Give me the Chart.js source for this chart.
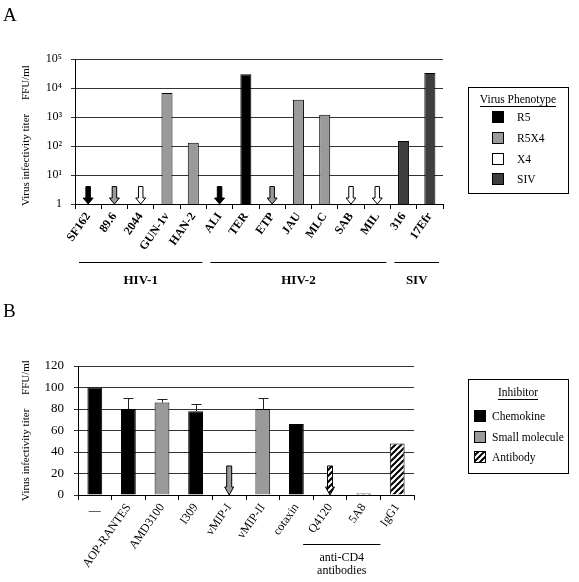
<!DOCTYPE html>
<html>
<head>
<meta charset="utf-8">
<script src="https://cdn.jsdelivr.net/npm/chart.js@4/dist/chart.umd.min.js"></script>
<style>
body { margin: 0; background: #fff; }
#wrap { position: relative; width: 579px; height: 582px; overflow: hidden; }
canvas { position: absolute; left: 0; }
#chartA { top: 0; }
#chartB { top: 300px; }
</style>
</head>
<body>
<div id="wrap">
  <canvas id="chartA" width="579" height="300"></canvas>
  <canvas id="chartB" width="579" height="282"></canvas>
</div>
<script>
// panel A: virus titers (log scale)
var virusNames = ['SF162', '89.6', '2044', 'GUN-1v', 'HAN-2', 'ALI', 'TER', 'ETP', 'JAU', 'MLC', 'SAB', 'MIL', '316', '17Efr'];
var virusPhenotype = ['R5', 'R5X4', 'X4', 'R5X4', 'R5X4', 'R5', 'R5', 'R5X4', 'R5X4', 'R5X4', 'X4', 'X4', 'SIV', 'SIV'];
var virusTiter = [null, null, null, 6700, 130, null, 30000, null, 3900, 1200, null, null, 150, 33000];
var virusBelowDetection = [4, 4, 4, null, null, 4, null, 4, null, null, 4, 4, null, null];
var virusGroups = ['HIV-1', 'HIV-2', 'SIV'];
var virusGroupFirst = [0, 5, 12];
var virusGroupLast = [4, 11, 13];
var titerTicks = [1, 10, 100, 1000, 10000, 100000];
var titerTickLabels = ['1', '10\u00b9', '10\u00b2', '10\u00b3', '10\u2074', '10\u2075'];
var phenotypes = ['R5', 'R5X4', 'X4', 'SIV'];

// panel B: inhibitors (% of control)
var inhibitorNames = ['\u2014', 'AOP-RANTES', 'AMD3100', 'I309', 'vMIP-I', 'vMIP-II', 'cotaxin', 'Q4120', '5A8', 'IgG1'];
var inhibitorClass = ['Chemokine', 'Chemokine', 'Small molecule', 'Chemokine', 'Small molecule', 'Small molecule', 'Chemokine', 'Antibody', 'Antibody', 'Antibody'];
var inhibitorTiter = [100, 80, 86, 78, null, 80, 66, 0.6, 1.5, 48];
var inhibitorErrorTop = [null, 90, 89, 85, null, 90, null, null, null, null];
var inhibitorBelowDetection = [null, null, null, null, 27, null, null, 27, null, null];
var cd4First = 7;
var cd4Last = 8;
var cd4Label = ['anti-CD4', 'antibodies'];
var percentTicks = [0, 20, 40, 60, 80, 100, 120];
var inhibitorTypes = ['Chemokine', 'Small molecule', 'Antibody'];

var serif = '"Liberation Serif", "DejaVu Serif", serif';
var serifName = 'Liberation Serif';
var phenotypeColor = { 'R5': '#000000', 'R5X4': '#9a9a9a', 'X4': '#ffffff', 'SIV': '#3e3e3e' };

function hatchPattern() {
  var c = document.createElement('canvas');
  c.width = 6; c.height = 6;
  var g = c.getContext('2d');
  g.fillStyle = '#fff';
  g.fillRect(0, 0, 6, 6);
  g.strokeStyle = '#000';
  g.lineWidth = 2;
  g.beginPath();
  g.moveTo(-1, 7); g.lineTo(7, -1);
  g.moveTo(-1, 1); g.lineTo(1, -1);
  g.moveTo(5, 7); g.lineTo(7, 5);
  g.stroke();
  return g.createPattern(c, 'repeat');
}
var hatch = hatchPattern();
var classColor = { 'Chemokine': '#000000', 'Small molecule': '#9a9a9a', 'Antibody': hatch };

function drawArrow(ctx, x, yTop, yBot, w, headW, headH, fill) {
  ctx.beginPath();
  ctx.moveTo(x - w / 2, yTop);
  ctx.lineTo(x + w / 2, yTop);
  ctx.lineTo(x + w / 2, yBot - headH);
  ctx.lineTo(x + headW / 2, yBot - headH);
  ctx.lineTo(x, yBot);
  ctx.lineTo(x - headW / 2, yBot - headH);
  ctx.lineTo(x - w / 2, yBot - headH);
  ctx.closePath();
  ctx.fillStyle = fill;
  ctx.fill();
  ctx.lineWidth = 1;
  ctx.strokeStyle = '#000';
  ctx.stroke();
}

// legend box + panel letter, drawn on the canvas
function drawLegend(ctx, o) {
  ctx.save();
  ctx.strokeStyle = '#000';
  ctx.lineWidth = 1;
  ctx.strokeRect(o.left + 0.5, o.top + 0.5, o.width, o.height);
  ctx.fillStyle = '#000';
  ctx.font = '11.5px ' + serif;
  ctx.textBaseline = 'middle';
  ctx.textAlign = 'center';
  var cx = o.left + o.width / 2;
  ctx.fillText(o.title, cx, o.titleY);
  var tw = ctx.measureText(o.title).width;
  ctx.fillRect(Math.round(cx - tw / 2), o.titleY + 6, Math.round(tw), 1);
  ctx.textAlign = 'left';
  o.names.forEach(function(n, i) {
    var y = o.firstY + i * o.step;
    ctx.fillStyle = o.colors[i];
    ctx.fillRect(o.swX, Math.round(y - 6), 12, 12);
    ctx.strokeRect(o.swX + 0.5, Math.round(y - 6) + 0.5, 11, 11);
    ctx.fillStyle = '#000';
    ctx.fillText(n, o.textX, y + 1);
  });
  ctx.font = '19px ' + serif;
  ctx.textBaseline = 'alphabetic';
  ctx.fillText(o.panel, 3, o.panelY);
  ctx.restore();
}

var arrowsA = {
  id: 'arrowsA',
  afterDatasetsDraw: function(chart) {
    var ctx = chart.ctx, xs = chart.scales.x, ys = chart.scales.y;
    ctx.save();
    virusBelowDetection.forEach(function(v, i) {
      if (v == null) return;
      drawArrow(ctx, xs.getPixelForValue(i), ys.getPixelForValue(v), ys.getPixelForValue(1), 4.5, 10, 6, phenotypeColor[virusPhenotype[i]]);
    });
    ctx.restore();
  }
};

var extrasA = {
  id: 'extrasA',
  afterDraw: function(chart) {
    var ctx = chart.ctx, xs = chart.scales.x;
    var half = (xs.getPixelForValue(1) - xs.getPixelForValue(0)) / 2;
    ctx.save();
    ctx.strokeStyle = '#000';
    ctx.lineWidth = 1;
    ctx.fillStyle = '#000';
    ctx.font = 'bold 13px ' + serif;
    ctx.textAlign = 'center';
    ctx.textBaseline = 'middle';
    virusGroups.forEach(function(name, g) {
      var x1 = xs.getPixelForValue(virusGroupFirst[g]) - half + 4;
      var x2 = xs.getPixelForValue(virusGroupLast[g]) + half - 4;
      ctx.beginPath();
      ctx.moveTo(x1, 262.5);
      ctx.lineTo(x2, 262.5);
      ctx.stroke();
      ctx.fillText(name, (x1 + x2) / 2, 281);
    });
    ctx.restore();
    drawLegend(ctx, {
      left: 468, top: 87, width: 100, height: 106, title: 'Virus Phenotype', titleY: 100,
      names: phenotypes, colors: phenotypes.map(function(p) { return phenotypeColor[p]; }),
      firstY: 117, step: 20.8, swX: 492, textX: 517, panel: 'A', panelY: 21
    });
  }
};

var extrasB = {
  id: 'extrasB',
  afterDatasetsDraw: function(chart) {
    var ctx = chart.ctx, xs = chart.scales.x, ys = chart.scales.y;
    ctx.save();
    // error bars (upper only)
    ctx.strokeStyle = '#222';
    ctx.lineWidth = 1;
    inhibitorErrorTop.forEach(function(e, i) {
      if (e == null) return;
      var x = Math.round(xs.getPixelForValue(i)) + 0.5;
      var y1 = ys.getPixelForValue(inhibitorTiter[i]);
      var y2 = Math.round(ys.getPixelForValue(e)) + 0.5;
      ctx.beginPath();
      ctx.moveTo(x, y1);
      ctx.lineTo(x, y2);
      ctx.moveTo(x - 5, y2);
      ctx.lineTo(x + 5, y2);
      ctx.stroke();
    });
    inhibitorBelowDetection.forEach(function(v, i) {
      if (v == null) return;
      drawArrow(ctx, xs.getPixelForValue(i), ys.getPixelForValue(v), ys.getPixelForValue(0), 5, 9, 8, classColor[inhibitorClass[i]]);
    });
    ctx.restore();
  },
  afterDraw: function(chart) {
    var ctx = chart.ctx, xs = chart.scales.x;
    var half = (xs.getPixelForValue(1) - xs.getPixelForValue(0)) / 2;
    ctx.save();
    ctx.fillStyle = '#000';
    ctx.strokeStyle = '#000';
    ctx.lineWidth = 1;
    ctx.font = '12px ' + serif;
    ctx.textAlign = 'center';
    ctx.textBaseline = 'middle';
    // the control label is written flat
    ctx.fillText(inhibitorNames[0], xs.getPixelForValue(0), 211);
    var x1 = xs.getPixelForValue(cd4First) - half * 1.6;
    var x2 = xs.getPixelForValue(cd4Last) + half;
    ctx.beginPath();
    ctx.moveTo(x1, 244.5);
    ctx.lineTo(x2, 244.5);
    ctx.stroke();
    ctx.fillText(cd4Label[0], (x1 + x2) / 2, 258);
    ctx.fillText(cd4Label[1], (x1 + x2) / 2, 271);
    ctx.restore();
    drawLegend(ctx, {
      left: 468, top: 79, width: 100, height: 94, title: 'Inhibitor', titleY: 93,
      names: inhibitorTypes, colors: inhibitorTypes.map(function(c) { return classColor[c]; }),
      firstY: 116, step: 20.7, swX: 474, textX: 492, panel: 'B', panelY: 17
    });
  }
};

var yTitle = 'Virus infectivity titer\u00a0\u00a0\u00a0\u00a0\u00a0FFU/ml';

new Chart(document.getElementById('chartA'), {
  type: 'bar',
  data: {
    labels: virusNames,
    datasets: [{
      data: virusTiter,
      backgroundColor: virusPhenotype.map(function(p) { return phenotypeColor[p]; }),
      borderColor: '#000',
      borderWidth: 1,
      barPercentage: 0.42,
      categoryPercentage: 1
    }]
  },
  options: {
    responsive: false,
    animation: false,
    layout: { padding: { left: 12, top: 59, right: 136, bottom: 0 } },
    plugins: { legend: { display: false }, tooltip: { enabled: false } },
    scales: {
      x: {
        grid: { display: true, drawOnChartArea: false, tickLength: 5, color: '#000' },
        border: { color: '#000' },
        ticks: { color: '#000', font: { family: serifName, size: 12, weight: 'bold' }, minRotation: 55, maxRotation: 55, autoSkip: false, padding: 1 },
        afterFit: function(s) { s.height = 96; }
      },
      y: {
        type: 'logarithmic',
        min: 1,
        max: 100000,
        afterBuildTicks: function(s) { s.ticks = titerTicks.map(function(v) { return { value: v }; }); },
        grid: { color: '#333', tickLength: 4 },
        border: { color: '#000' },
        ticks: {
          color: '#000', font: { family: serifName, size: 12 }, padding: 9,
          callback: function(v) { return titerTickLabels[titerTicks.indexOf(v)]; }
        },
        title: { display: true, text: yTitle + '\u00a0\u00a0\u00a0', color: '#000', font: { family: serifName, size: 11 }, padding: { top: 8, bottom: 0 } },
        afterFit: function(s) { s.width = 63; }
      }
    }
  },
  plugins: [arrowsA, extrasA]
});

new Chart(document.getElementById('chartB'), {
  type: 'bar',
  data: {
    labels: inhibitorNames,
    datasets: [{
      data: inhibitorTiter,
      backgroundColor: inhibitorClass.map(function(c) { return classColor[c]; }),
      borderColor: '#000',
      borderWidth: 1,
      barPercentage: 0.44,
      categoryPercentage: 1
    }]
  },
  options: {
    responsive: false,
    animation: false,
    layout: { padding: { left: 12, top: 66, right: 165, bottom: 0 } },
    plugins: { legend: { display: false }, tooltip: { enabled: false } },
    scales: {
      x: {
        grid: { display: true, drawOnChartArea: false, tickLength: 5, color: '#000' },
        border: { color: '#000' },
        ticks: {
          color: '#000', font: { family: serifName, size: 12 }, minRotation: 55, maxRotation: 55, autoSkip: false, padding: 1,
          callback: function(v, i) { return i === 0 ? '' : inhibitorNames[i]; }
        },
        afterFit: function(s) { s.height = 87; }
      },
      y: {
        min: 0,
        max: 120,
        afterBuildTicks: function(s) { s.ticks = percentTicks.map(function(v) { return { value: v }; }); },
        grid: { color: '#333', tickLength: 4 },
        border: { color: '#000' },
        ticks: { color: '#000', font: { family: serifName, size: 13 }, padding: 10 },
        title: { display: true, text: yTitle, color: '#000', font: { family: serifName, size: 11 }, padding: { top: 8, bottom: 0 } },
        afterFit: function(s) { s.width = 66; }
      }
    }
  },
  plugins: [extrasB]
});
</script>
</body>
</html>
